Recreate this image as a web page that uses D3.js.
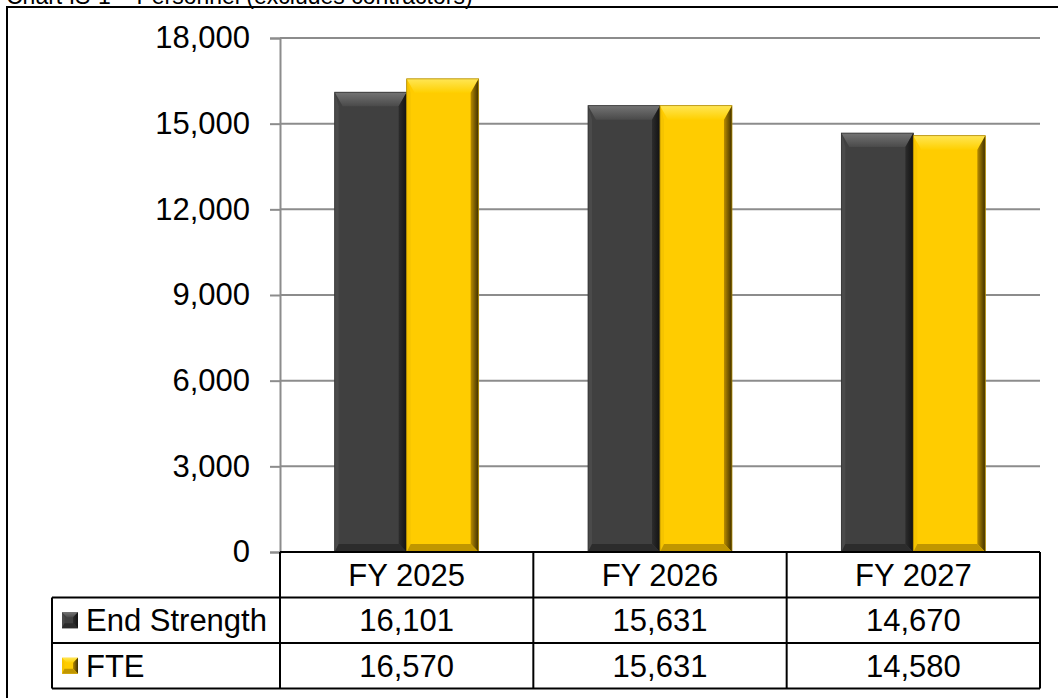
<!DOCTYPE html>
<html lang="en">
<head>
<meta charset="UTF-8">
<title>Personnel</title>
<script src="https://d3js.org/d3.v7.min.js"></script>
<style>
  html, body { margin: 0; background: #fff; }
  text { font-family: "Liberation Sans", Arial, sans-serif; fill: #000; }
</style>
</head>
<body>
<div id="vis"></div>
<script>
var categories = ['FY 2025', 'FY 2026', 'FY 2027'];
var seriesNames = ['End Strength', 'FTE'];
var endStrength = [16101, 15631, 14670];
var fte = [16570, 15631, 14580];
var yTicks = [0, 3000, 6000, 9000, 12000, 15000, 18000];

var W = 1058, H = 698;
var fs = '31px';
var svg = d3.select('#vis').append('svg')
    .attr('width', W).attr('height', H);

// gradients for the bevel edges
var defs = svg.append('defs');
function grad(id, x2, y2, c1, c2) {
    var g = defs.append('linearGradient').attr('id', id)
        .attr('x1', 0).attr('y1', 0).attr('x2', x2).attr('y2', y2);
    g.append('stop').attr('offset', '0%').attr('stop-color', c1);
    g.append('stop').attr('offset', '100%').attr('stop-color', c2);
}
grad('esTop', 0, 1, '#747474', '#4a4a4a');
grad('esRight', 1, 0, '#2c2c2c', '#121212');
grad('fteTop', 0, 1, '#ffe655', '#ffd000');
grad('fteRight', 1, 0, '#b88c00', '#3e2f00');

// page title, mostly cut off at the top
svg.append('text')
    .attr('x', 6).attr('y', 4)
    .style('font-size', '23px')
    .text('Chart IS-1  \u2013  Personnel (excludes contractors)');

// outer frame
svg.append('rect')
    .attr('x', 7).attr('y', 7)
    .attr('width', 1070).attr('height', 710)
    .attr('fill', 'none').attr('stroke', '#000').attr('stroke-width', 2);

var plotLeft = 280, plotRight = 1040, plotTop = 38, plotBottom = 552;
var rowH = 45.5;

var x0 = d3.scaleBand().domain(categories).range([plotLeft, plotRight]).padding(0);
var x1 = d3.scaleBand().domain(seriesNames).range([0, x0.bandwidth()])
    .paddingInner(0).paddingOuter(0.76);
var y = d3.scaleLinear().domain([0, 18000]).range([plotBottom, plotTop]);

// gridlines
svg.append('g').selectAll('line').data(yTicks.slice(1)).enter().append('line')
    .attr('x1', plotLeft).attr('x2', plotRight)
    .attr('y1', function(d) { return y(d); }).attr('y2', function(d) { return y(d); })
    .attr('stroke', '#8c8c8c').attr('stroke-width', 2);

var yAxis = d3.axisLeft(y).tickValues(yTicks).tickSize(10).tickPadding(20)
    .tickFormat(d3.format(','));
var ya = svg.append('g').attr('transform', 'translate(' + plotLeft + ',0)').call(yAxis);
ya.select('.domain').attr('stroke', '#8c8c8c').attr('stroke-width', 2);
ya.selectAll('.tick line').attr('stroke', '#8c8c8c').attr('stroke-width', 2);
ya.selectAll('.tick text').style('font-size', fs)
    .style('font-family', '"Liberation Sans", Arial, sans-serif').attr('fill', '#000');

var palettes = {
    'End Strength': { main: '#404040', top: 'url(#esTop)', left: '#4a4a4a', right: 'url(#esRight)', bottom: '#2c2c2c' },
    'FTE': { main: '#ffcc00', top: 'url(#fteTop)', left: '#f6c400', right: 'url(#fteRight)', bottom: '#c09600' }
};

// bevelled box made of four trapezoids around an inner rect
function bevel(g, x, yt, w, h, pal, bt, bs) {
    var x2 = x + w, y2 = yt + h;
    g.append('rect').attr('x', x).attr('y', yt).attr('width', w).attr('height', h).attr('fill', pal.main);
    g.append('polygon').attr('fill', pal.top)
        .attr('points', [[x, yt], [x2, yt], [x2 - bs, yt + bt], [x + bs, yt + bt]].join(' '));
    g.append('polygon').attr('fill', pal.left)
        .attr('points', [[x, yt], [x + bs * 0.5, yt + bt], [x + bs * 0.5, y2 - bs], [x, y2]].join(' '));
    g.append('polygon').attr('fill', pal.right)
        .attr('points', [[x2, yt], [x2, y2], [x2 - bs, y2 - bs], [x2 - bs, yt + bt]].join(' '));
    g.append('polygon').attr('fill', pal.bottom)
        .attr('points', [[x, y2], [x2, y2], [x2 - bs, y2 - bs], [x + bs * 0.5, y2 - bs]].join(' '));
}

var seriesData = { 'End Strength': endStrength, 'FTE': fte };
var bars = svg.append('g');
seriesNames.forEach(function(s) {
    seriesData[s].forEach(function(v, i) {
        var bx = x0(categories[i]) + x1(s);
        var g = bars.append('g');
        bevel(g, bx, y(v), x1.bandwidth(), y(0) - y(v), palettes[s], 14, 8);
        g.append('rect').attr('x', bx).attr('y', y(v)).attr('width', x1.bandwidth())
            .attr('height', y(0) - y(v)).attr('fill', 'none')
            .attr('stroke', s === 'FTE' ? '#b08a00' : '#303030').attr('stroke-width', 0.8);
    });
});

// data table
var tbl = svg.append('g').attr('fill', 'none');
var tableLeft = 52;
var rowYs = [plotBottom, plotBottom + rowH, plotBottom + 2 * rowH, plotBottom + 3 * rowH];

function hline(x1v, x2v, yv) {
    tbl.append('line').attr('x1', x1v).attr('x2', x2v).attr('y1', yv).attr('y2', yv)
        .attr('stroke', '#000').attr('stroke-width', 2);
}
function vline(xv, y1v, y2v) {
    tbl.append('line').attr('x1', xv).attr('x2', xv).attr('y1', y1v).attr('y2', y2v)
        .attr('stroke', '#000').attr('stroke-width', 2);
}
hline(plotLeft, plotRight, rowYs[0]);
hline(tableLeft, plotRight, rowYs[1]);
hline(tableLeft, plotRight, rowYs[2]);
hline(tableLeft, plotRight, rowYs[3]);
vline(tableLeft, rowYs[1], rowYs[3]);
x0.domain().forEach(function(c) { vline(x0(c), rowYs[0], rowYs[3]); });
vline(plotRight, rowYs[0], rowYs[3]);

svg.append('g').selectAll('text').data(categories).enter().append('text')
    .attr('x', function(d) { return x0(d) + x0.bandwidth() / 2; })
    .attr('y', rowYs[0] + rowH / 2 + 11)
    .attr('text-anchor', 'middle').style('font-size', fs)
    .text(function(d) { return d; });

seriesNames.forEach(function(s, r) {
    var ty = rowYs[r + 1] + rowH / 2;
    var sw = svg.append('g');
    bevel(sw, 62, ty - 8, 16, 16, palettes[s], 5, 5);
    svg.append('text').attr('x', 86).attr('y', ty + 11)
        .style('font-size', fs).text(s);
    svg.append('g').selectAll('text').data(seriesData[s]).enter().append('text')
        .attr('x', function(d, i) { return x0(categories[i]) + x0.bandwidth() / 2; })
        .attr('y', ty + 11)
        .attr('text-anchor', 'middle').style('font-size', fs)
        .text(function(d) { return d3.format(',')(d); });
});
</script>
</body>
</html>
